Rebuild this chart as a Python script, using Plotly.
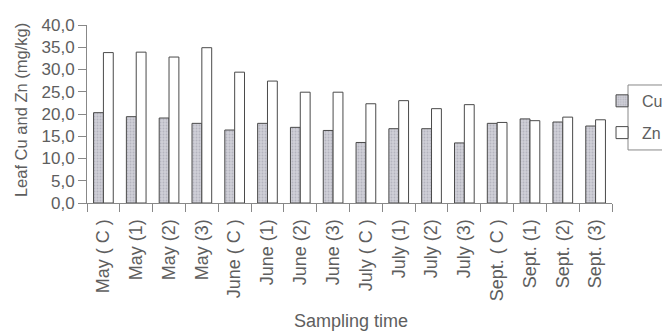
import plotly.graph_objects as go

categories = ["May ( C )", "May (1)", "May (2)", "May (3)",
              "June ( C )", "June (1)", "June (2)", "June (3)",
              "July ( C )", "July (1)", "July (2)", "July (3)",
              "Sept. ( C )", "Sept. (1)", "Sept. (2)", "Sept. (3)"]
cu_values = [20.3, 19.4, 19.1, 17.9, 16.4, 17.9, 17.0, 16.3,
             13.6, 16.7, 16.7, 13.5, 17.9, 18.9, 18.2, 17.3]
zn_values = [33.8, 33.9, 32.8, 34.9, 29.4, 27.4, 24.9, 24.9,
             22.3, 23.0, 21.2, 22.1, 18.1, 18.5, 19.3, 18.7]
y_ticks = [0, 5, 10, 15, 20, 25, 30, 35, 40]

font_fam = "Liberation Sans, Arial, sans-serif"
txt = "#5e5e5e"

fig = go.Figure()
fig.add_trace(go.Bar(
    x=categories, y=cu_values, name="Cu", legendgroup="cu",
    marker=dict(color="#c9c9d2", line=dict(color="#4a4a4a", width=1),
                pattern=dict(shape=".", fgcolor="#9a9aa4", bgcolor="#cfcfd8", size=3, solidity=0.3)),
))
fig.add_trace(go.Bar(
    x=categories, y=zn_values, name="Zn", legendgroup="zn",
    marker=dict(color="white", line=dict(color="#4a4a4a", width=1)),
))

# legend frame (legend itself is borderless so its text stays inside the page)
fig.add_shape(type="rect", xref="paper", yref="paper",
              x0=1.0305, x1=1.2, y0=0.298, y1=0.663,
              line=dict(color="#888888", width=1), fillcolor="rgba(0,0,0,0)")

fig.add_annotation(text="Sampling time", xref="paper", yref="paper",
                   x=0.503, y=-0.663, xanchor="center", yanchor="middle",
                   showarrow=False, font=dict(size=18, color=txt))
fig.add_annotation(text="Leaf Cu and Zn (mg/kg)", xref="paper", yref="paper",
                   x=-0.1257, y=0.522, xanchor="center", yanchor="middle",
                   textangle=-90, showarrow=False, font=dict(size=16.5, color=txt))

fig.update_layout(
    width=670, height=331,
    margin=dict(l=79, r=66, t=17, b=136, autoexpand=False),
    paper_bgcolor="white", plot_bgcolor="white",
    barmode="group", bargap=0.4, bargroupgap=0.0,
    separators=", ",
    font=dict(family=font_fam, size=15, color=txt),
    showlegend=True,
    legend=dict(xref="paper", yref="paper", x=0.981, y=0.669,
                xanchor="left", yanchor="top",
                bgcolor="rgba(0,0,0,0)", borderwidth=0,
                font=dict(size=16, color=txt), tracegroupgap=8,
                itemwidth=30),
    xaxis=dict(
        tickangle=-90, showline=True, linecolor="#888888", linewidth=1,
        ticks="outside", ticklen=8, tickcolor="#888888",
        tickson="boundaries", showgrid=False, automargin=False,
        ticklabelstandoff=8,
        tickfont=dict(size=18, color=txt),
    ),
    yaxis=dict(
        range=[0, 40], tickvals=y_ticks, tickformat=".1f",
        showline=True, linecolor="#888888", linewidth=1,
        ticks="outside", ticklen=8, tickcolor="#888888",
        showgrid=False, zeroline=False, automargin=False,
        tickfont=dict(size=17, color=txt),
    ),
)

fig.write_html("out.html")
